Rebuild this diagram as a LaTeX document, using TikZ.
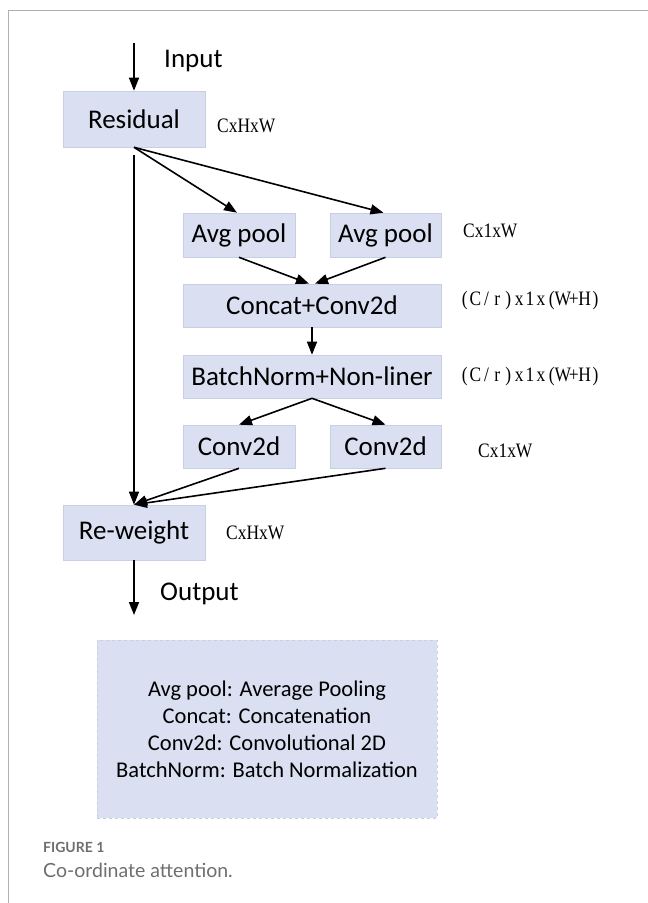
\documentclass[tikz,border=0pt]{standalone}
\usepackage{fontspec}
\setmainfont{Carlito}
\newfontfamily\annot[FakeStretch=0.85]{Liberation Serif}
\newfontfamily\capfont{Lato}
\usetikzlibrary{arrows.meta}
\definecolor{boxblue}{RGB}{218,224,242}
\definecolor{boxedge}{RGB}{200,206,228}
\definecolor{framegray}{RGB}{175,175,175}
\definecolor{capgray}{RGB}{110,110,110}
\makeatletter
\newcommand\halfw[1]{\@tfor\hwch:=#1\do{\makebox[10.9pt]{\hwch}}}
\makeatother
\begin{document}
\begin{tikzpicture}[x=1pt,y=-1pt,
  blk/.style={fill=boxblue, draw=boxedge, line width=0.6pt, inner sep=0pt, font=\fontsize{27}{30}\selectfont},
  dim/.style={font=\annot\fontsize{20.5}{24}\selectfont, anchor=west, inner sep=0pt},
  lbl/.style={font=\fontsize{27}{30}\selectfont, anchor=west, inner sep=0pt},
  conn/.style={line width=1.6pt},
  arr/.style={conn, -{Triangle[length=13pt,width=10pt]}}]
\useasboundingbox (0,0) rectangle (648,903);
\draw[framegray, line width=1pt] (8,903) -- (8,10) -- (648,10);

\node[blk, minimum width=142pt, minimum height=56pt] (res) at (134,119) {Residual};
\node[blk, minimum width=112pt, minimum height=44pt] (avg1) at (239,235) {Avg pool};
\node[blk, minimum width=111pt, minimum height=44pt] (avg2) at (385.5,235) {Avg pool};
\node[blk, minimum width=258pt, minimum height=43pt] (cat) at (312,305.5) {Concat+Conv2d};
\node[blk, minimum width=258pt, minimum height=43pt] (bn) at (312,376.5) {BatchNorm+Non-liner};
\node[blk, minimum width=112pt, minimum height=43pt] (cv1) at (239,446.5) {Conv2d};
\node[blk, minimum width=111pt, minimum height=43pt] (cv2) at (385.5,446.5) {Conv2d};
\node[blk, minimum width=142pt, minimum height=55pt] (rew) at (134,532.5) {Re-weight};

\node[dim] (d1) at (217,126) {CxHxW};
\node[dim] (d2) at (463,231) {Cx1xW};
\node[dim] (d3) at (459,301) {\halfw{(C/r)x1x(W+H)}};
\node[dim] (d4) at (459,377) {\halfw{(C/r)x1x(W+H)}};
\node[dim] (d5) at (478,451) {Cx1xW};
\node[dim] (d6) at (226,533) {CxHxW};

\node[lbl] (inl) at (164,61) {Input};
\node[lbl] (outl) at (160,594) {Output};

\coordinate (inTop) at (134,43);
\coordinate (outEnd) at (134,615);
\draw[arr] (inTop) -- (res.north);
\draw[arr] (rew.south) -- (outEnd);

\draw[arr] (res.south) -- ([xshift=-2pt]avg1.north);
\draw[arr] (res.south) -- ([xshift=-2pt]avg2.north);
\draw[arr] ([yshift=-8pt]res.south) -- (rew.north);
\draw[arr] (avg1.south) -- ([xshift=-3pt]cat.north);
\draw[arr] (avg2.south) -- ([xshift=3pt]cat.north);
\draw[arr] (cat.south) -- (bn.north);
\draw[arr] (bn.south) -- (cv1.north);
\draw[arr] (bn.south) -- (cv2.north);
\draw[arr] (cv1.south) -- (rew.north);
\draw[arr] (cv2.south) -- (rew.north);

\node[fill=boxblue, draw=boxedge, dashed, line width=0.6pt, minimum width=340pt, minimum height=178pt, inner sep=0pt,
      align=center, font=\fontsize{22.5}{27}\selectfont] (leg) at (267,729)
  {Avg pool: Average Pooling\\Concat: Concatenation\\Conv2d: Convolutional 2D\\BatchNorm: Batch Normalization};

\node[anchor=west, inner sep=0pt, text=capgray, font=\capfont\bfseries\fontsize{14}{16}\selectfont] (fig) at (43,847) {FIGURE 1};
\node[anchor=west, inner sep=0pt, text=capgray, font=\capfont\fontsize{19.5}{22}\selectfont] (cap) at (43,870) {Co-ordinate attention.};
\end{tikzpicture}
\end{document}
